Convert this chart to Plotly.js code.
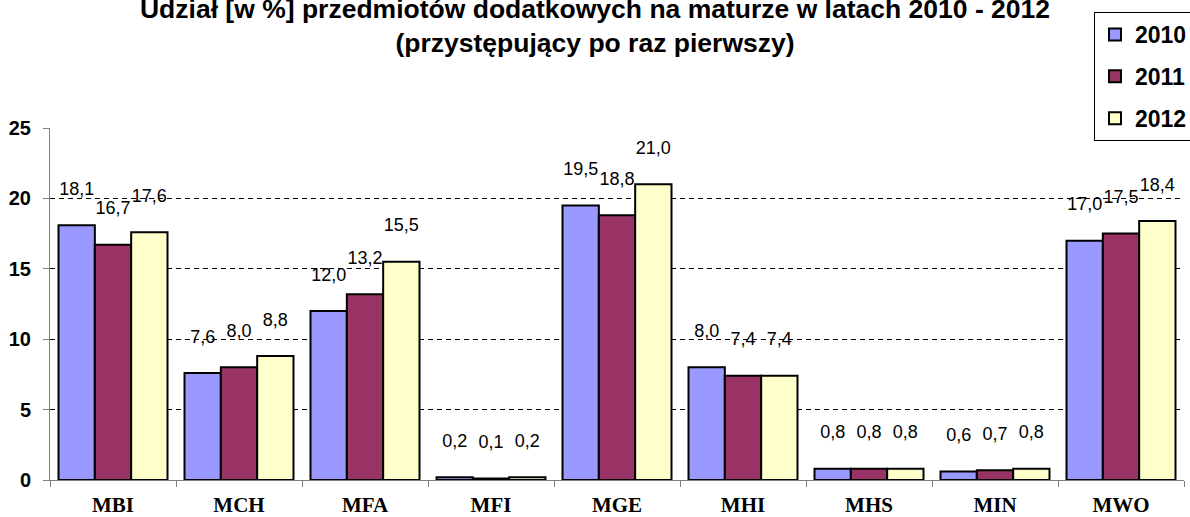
<!DOCTYPE html>
<html>
<head>
<meta charset="utf-8">
<script src="https://cdn.plot.ly/plotly-3.0.1.min.js"></script>
<style>html,body{margin:0;padding:0;background:#fff;}#chart{width:1190px;height:517px;}</style>
</head>
<body>
<div id="chart"></div>
<script>
const categories = ["MBI", "MCH", "MFA", "MFI", "MGE", "MHI", "MHS", "MIN", "MWO"];
const years = ["2010", "2011", "2012"];
const values2010 = [18.1, 7.6, 12.0, 0.2, 19.5, 8.0, 0.8, 0.6, 17.0];
const values2011 = [16.7, 8.0, 13.2, 0.1, 18.8, 7.4, 0.8, 0.7, 17.5];
const values2012 = [17.6, 8.8, 15.5, 0.2, 21.0, 7.4, 0.8, 0.8, 18.4];
const yTicks = [0, 5, 10, 15, 20, 25];
const colors = ["#9999FF", "#993366", "#FFFFCC"];

const series = [values2010, values2011, values2012];
const traces = series.map((vals, i) => ({
  type: "bar",
  name: years[i],
  legendgroup: years[i],
  x: categories,
  y: vals,
  marker: { color: colors[i], line: { color: "#000", width: 2 } },
  texttemplate: "%{y:.1f}<br>\u00a0",
  textposition: "outside",
  constraintext: "none",
  textangle: 0,
  cliponaxis: false,
  textfont: { family: "Liberation Sans, Arial, sans-serif", size: 18, color: "#000" },
  hoverinfo: "x+y+name"
}));

const layout = {
  width: 1190,
  height: 517,
  paper_bgcolor: "#fff",
  plot_bgcolor: "#fff",
  separators: ", ",
  margin: { l: 50, r: 6, t: 128, b: 37, autoexpand: false },
  barmode: "group",
  bargap: 0.135,
  bargroupgap: 0,
  title: {
    text: "Udział [w %] przedmiotów dodatkowych na maturze w latach 2010 - 2012<br>(przystępujący po raz pierwszy)",
    font: { family: "Liberation Sans, Arial, sans-serif", size: 26.5, color: "#000", weight: "bold" },
    x: 0.5,
    xanchor: "center",
    xref: "container",
    yref: "container",
    y: 0.966,
    yanchor: "middle"
  },
  xaxis: {
    type: "category",
    tickson: "boundaries",
    ticks: "outside",
    ticklen: 6,
    tickcolor: "#808080",
    showline: true,
    linecolor: "#808080",
    linewidth: 1,
    showgrid: false,
    ticklabelstandoff: 6,
    tickfont: { family: "Liberation Serif, Times New Roman, serif", size: 21, color: "#000", weight: "bold" },
    fixedrange: true
  },
  yaxis: {
    range: [0, 25],
    tickvals: yTicks,
    ticktext: yTicks.map(String),
    ticks: "outside",
    ticklen: 6,
    tickcolor: "#808080",
    showline: true,
    linecolor: "#808080",
    linewidth: 1,
    showgrid: true,
    gridcolor: "#000",
    gridwidth: 1,
    griddash: "5px,4px",
    zeroline: false,
    ticklabelstandoff: 8,
    tickfont: { family: "Liberation Sans, Arial, sans-serif", size: 20, color: "#000", weight: "bold" },
    fixedrange: true
  },
  legend: {
    xref: "container",
    yref: "container",
    x: 1094 / 1190,
    xanchor: "left",
    y: 1 - 12 / 517,
    yanchor: "top",
    bgcolor: "#fff",
    bordercolor: "#000",
    borderwidth: 1,
    traceorder: "grouped",
    tracegroupgap: 9,
    font: { family: "Liberation Sans, Arial, sans-serif", size: 23, color: "#000", weight: "bold" }
  },
  showlegend: true
};

Plotly.newPlot("chart", traces, layout, { displayModeBar: false, staticPlot: true });
</script>
</body>
</html>
